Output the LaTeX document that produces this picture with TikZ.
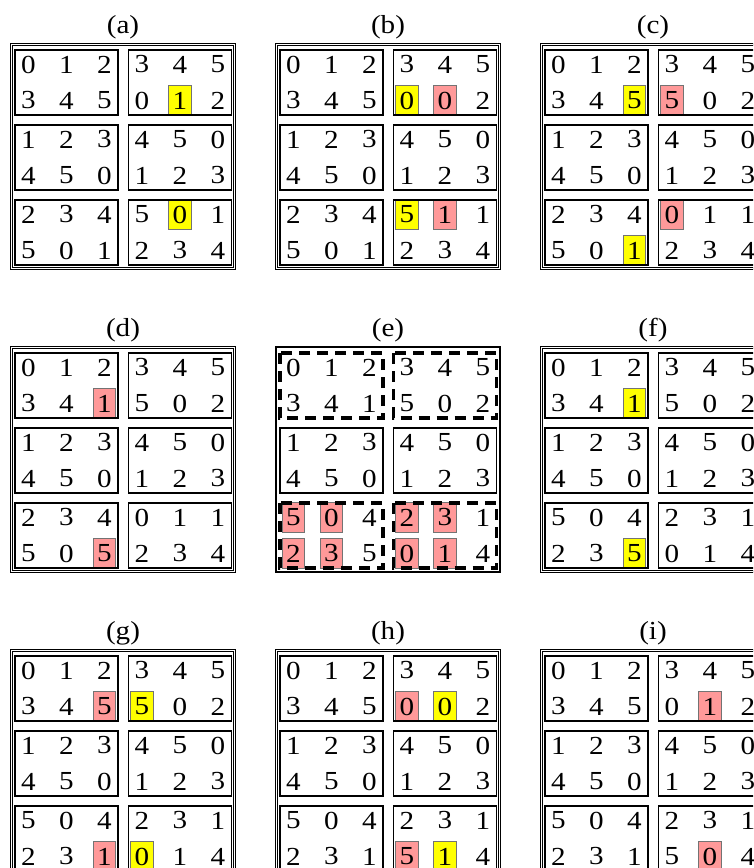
\documentclass[tikz,border=0pt]{standalone}
\usepackage{fontspec}
\setmainfont{Liberation Serif}
\newfontfamily\cellfont[FakeStretch=1.12]{Liberation Serif}

\definecolor{hlyellow}{RGB}{255,255,0}
\definecolor{hlpink}{RGB}{255,153,153}
\newcommand{\digitsize}{\cellfont\fontsize{26}{30}\selectfont}

\tikzset{
  panelframe/.style={draw, line width=1.1pt, double, double distance=1.2pt},
  plainframe/.style={draw, line width=2pt},
  blockline/.style={draw, line width=1.8pt},
  dashblock/.style={draw, line width=3.6pt, dash pattern=on 11pt off 7pt},
  celln/.style={inner sep=0pt, minimum width=22.7pt, minimum height=30pt, font=\digitsize},
  celly/.style={celln, fill=hlyellow, draw=black!55, line width=0.8pt},
  cellp/.style={celln, fill=hlpink, draw=black!55, line width=0.8pt},
  paneltitle/.style={font=\digitsize}
}

% one 2x3 block: style, name, x, y, digit/kind list
\newcommand{\cellblock}[5][blockline]{%
  \foreach \d/\s [count=\i from 0] in {#5} {
    \pgfmathtruncatemacro{\cc}{mod(\i,3)}
    \pgfmathtruncatemacro{\rr}{\i/3}
    \node[cell\s] (#2-\i) at ({#3+13.5+38*\cc},{#4+14.5+36*\rr}) {\d};
  }
  \draw[#1] (#3,#4) rectangle ++(103,65);
}

\begin{document}
\begin{tikzpicture}[x=1pt,y=-1pt]
  \useasboundingbox (0,0) rectangle (753,868);
  \clip (0,0) rectangle (753,868);

  % (a)
  \begin{scope}[shift={(10,43)}]
    \node[paneltitle] (a-t) at (113,-16) {(a)};
    \draw[panelframe] (1.7,1.7) rectangle (224.3,225.3);
    \cellblock{a1}{5}{7}{0/n,1/n,2/n,3/n,4/n,5/n}
    \cellblock{a2}{118.5}{7}{3/n,4/n,5/n,0/n,1/y,2/n}
    \cellblock{a3}{5}{82}{1/n,2/n,3/n,4/n,5/n,0/n}
    \cellblock{a4}{118.5}{82}{4/n,5/n,0/n,1/n,2/n,3/n}
    \cellblock{a5}{5}{157}{2/n,3/n,4/n,5/n,0/n,1/n}
    \cellblock{a6}{118.5}{157}{5/n,0/y,1/n,2/n,3/n,4/n}
  \end{scope}

  % (b)
  \begin{scope}[shift={(275,43)}]
    \node[paneltitle] (b-t) at (113,-16) {(b)};
    \draw[panelframe] (1.7,1.7) rectangle (224.3,225.3);
    \cellblock{b1}{5}{7}{0/n,1/n,2/n,3/n,4/n,5/n}
    \cellblock{b2}{118.5}{7}{3/n,4/n,5/n,0/y,0/p,2/n}
    \cellblock{b3}{5}{82}{1/n,2/n,3/n,4/n,5/n,0/n}
    \cellblock{b4}{118.5}{82}{4/n,5/n,0/n,1/n,2/n,3/n}
    \cellblock{b5}{5}{157}{2/n,3/n,4/n,5/n,0/n,1/n}
    \cellblock{b6}{118.5}{157}{5/y,1/p,1/n,2/n,3/n,4/n}
  \end{scope}

  % (c)
  \begin{scope}[shift={(540,43)}]
    \node[paneltitle] (c-t) at (113,-16) {(c)};
    \draw[panelframe] (1.7,1.7) rectangle (224.3,225.3);
    \cellblock{c1}{5}{7}{0/n,1/n,2/n,3/n,4/n,5/y}
    \cellblock{c2}{118.5}{7}{3/n,4/n,5/n,5/p,0/n,2/n}
    \cellblock{c3}{5}{82}{1/n,2/n,3/n,4/n,5/n,0/n}
    \cellblock{c4}{118.5}{82}{4/n,5/n,0/n,1/n,2/n,3/n}
    \cellblock{c5}{5}{157}{2/n,3/n,4/n,5/n,0/n,1/y}
    \cellblock{c6}{118.5}{157}{0/p,1/n,1/n,2/n,3/n,4/n}
  \end{scope}

  % (d)
  \begin{scope}[shift={(10,346)}]
    \node[paneltitle] (d-t) at (113,-16) {(d)};
    \draw[panelframe] (1.7,1.7) rectangle (224.3,225.3);
    \cellblock{d1}{5}{7}{0/n,1/n,2/n,3/n,4/n,1/p}
    \cellblock{d2}{118.5}{7}{3/n,4/n,5/n,5/n,0/n,2/n}
    \cellblock{d3}{5}{82}{1/n,2/n,3/n,4/n,5/n,0/n}
    \cellblock{d4}{118.5}{82}{4/n,5/n,0/n,1/n,2/n,3/n}
    \cellblock{d5}{5}{157}{2/n,3/n,4/n,5/n,0/n,5/p}
    \cellblock{d6}{118.5}{157}{0/n,1/n,1/n,2/n,3/n,4/n}
  \end{scope}

  % (e)
  \begin{scope}[shift={(275,346)}]
    \node[paneltitle] (e-t) at (113,-16) {(e)};
    \draw[plainframe] (1,1) rectangle (225,226);
    \cellblock[dashblock]{e1}{5}{7}{0/n,1/n,2/n,3/n,4/n,1/n}
    \cellblock[dashblock]{e2}{118.5}{7}{3/n,4/n,5/n,5/n,0/n,2/n}
    \cellblock{e3}{5}{82}{1/n,2/n,3/n,4/n,5/n,0/n}
    \cellblock{e4}{118.5}{82}{4/n,5/n,0/n,1/n,2/n,3/n}
    \cellblock[dashblock]{e5}{5}{157}{5/p,0/p,4/n,2/p,3/p,5/n}
    \cellblock[dashblock]{e6}{118.5}{157}{2/p,3/p,1/n,0/p,1/p,4/n}
  \end{scope}

  % (f)
  \begin{scope}[shift={(540,346)}]
    \node[paneltitle] (f-t) at (113,-16) {(f)};
    \draw[panelframe] (1.7,1.7) rectangle (224.3,225.3);
    \cellblock{f1}{5}{7}{0/n,1/n,2/n,3/n,4/n,1/y}
    \cellblock{f2}{118.5}{7}{3/n,4/n,5/n,5/n,0/n,2/n}
    \cellblock{f3}{5}{82}{1/n,2/n,3/n,4/n,5/n,0/n}
    \cellblock{f4}{118.5}{82}{4/n,5/n,0/n,1/n,2/n,3/n}
    \cellblock{f5}{5}{157}{5/n,0/n,4/n,2/n,3/n,5/y}
    \cellblock{f6}{118.5}{157}{2/n,3/n,1/n,0/n,1/n,4/n}
  \end{scope}

  % (g)
  \begin{scope}[shift={(10,649)}]
    \node[paneltitle] (g-t) at (113,-16) {(g)};
    \draw[panelframe] (1.7,1.7) rectangle (224.3,225.3);
    \cellblock{g1}{5}{7}{0/n,1/n,2/n,3/n,4/n,5/p}
    \cellblock{g2}{118.5}{7}{3/n,4/n,5/n,5/y,0/n,2/n}
    \cellblock{g3}{5}{82}{1/n,2/n,3/n,4/n,5/n,0/n}
    \cellblock{g4}{118.5}{82}{4/n,5/n,0/n,1/n,2/n,3/n}
    \cellblock{g5}{5}{157}{5/n,0/n,4/n,2/n,3/n,1/p}
    \cellblock{g6}{118.5}{157}{2/n,3/n,1/n,0/y,1/n,4/n}
  \end{scope}

  % (h)
  \begin{scope}[shift={(275,649)}]
    \node[paneltitle] (h-t) at (113,-16) {(h)};
    \draw[panelframe] (1.7,1.7) rectangle (224.3,225.3);
    \cellblock{h1}{5}{7}{0/n,1/n,2/n,3/n,4/n,5/n}
    \cellblock{h2}{118.5}{7}{3/n,4/n,5/n,0/p,0/y,2/n}
    \cellblock{h3}{5}{82}{1/n,2/n,3/n,4/n,5/n,0/n}
    \cellblock{h4}{118.5}{82}{4/n,5/n,0/n,1/n,2/n,3/n}
    \cellblock{h5}{5}{157}{5/n,0/n,4/n,2/n,3/n,1/n}
    \cellblock{h6}{118.5}{157}{2/n,3/n,1/n,5/p,1/y,4/n}
  \end{scope}

  % (i)
  \begin{scope}[shift={(540,649)}]
    \node[paneltitle] (i-t) at (113,-16) {(i)};
    \draw[panelframe] (1.7,1.7) rectangle (224.3,225.3);
    \cellblock{i1}{5}{7}{0/n,1/n,2/n,3/n,4/n,5/n}
    \cellblock{i2}{118.5}{7}{3/n,4/n,5/n,0/n,1/p,2/n}
    \cellblock{i3}{5}{82}{1/n,2/n,3/n,4/n,5/n,0/n}
    \cellblock{i4}{118.5}{82}{4/n,5/n,0/n,1/n,2/n,3/n}
    \cellblock{i5}{5}{157}{5/n,0/n,4/n,2/n,3/n,1/n}
    \cellblock{i6}{118.5}{157}{2/n,3/n,1/n,5/n,0/p,4/n}
  \end{scope}
\end{tikzpicture}
\end{document}
